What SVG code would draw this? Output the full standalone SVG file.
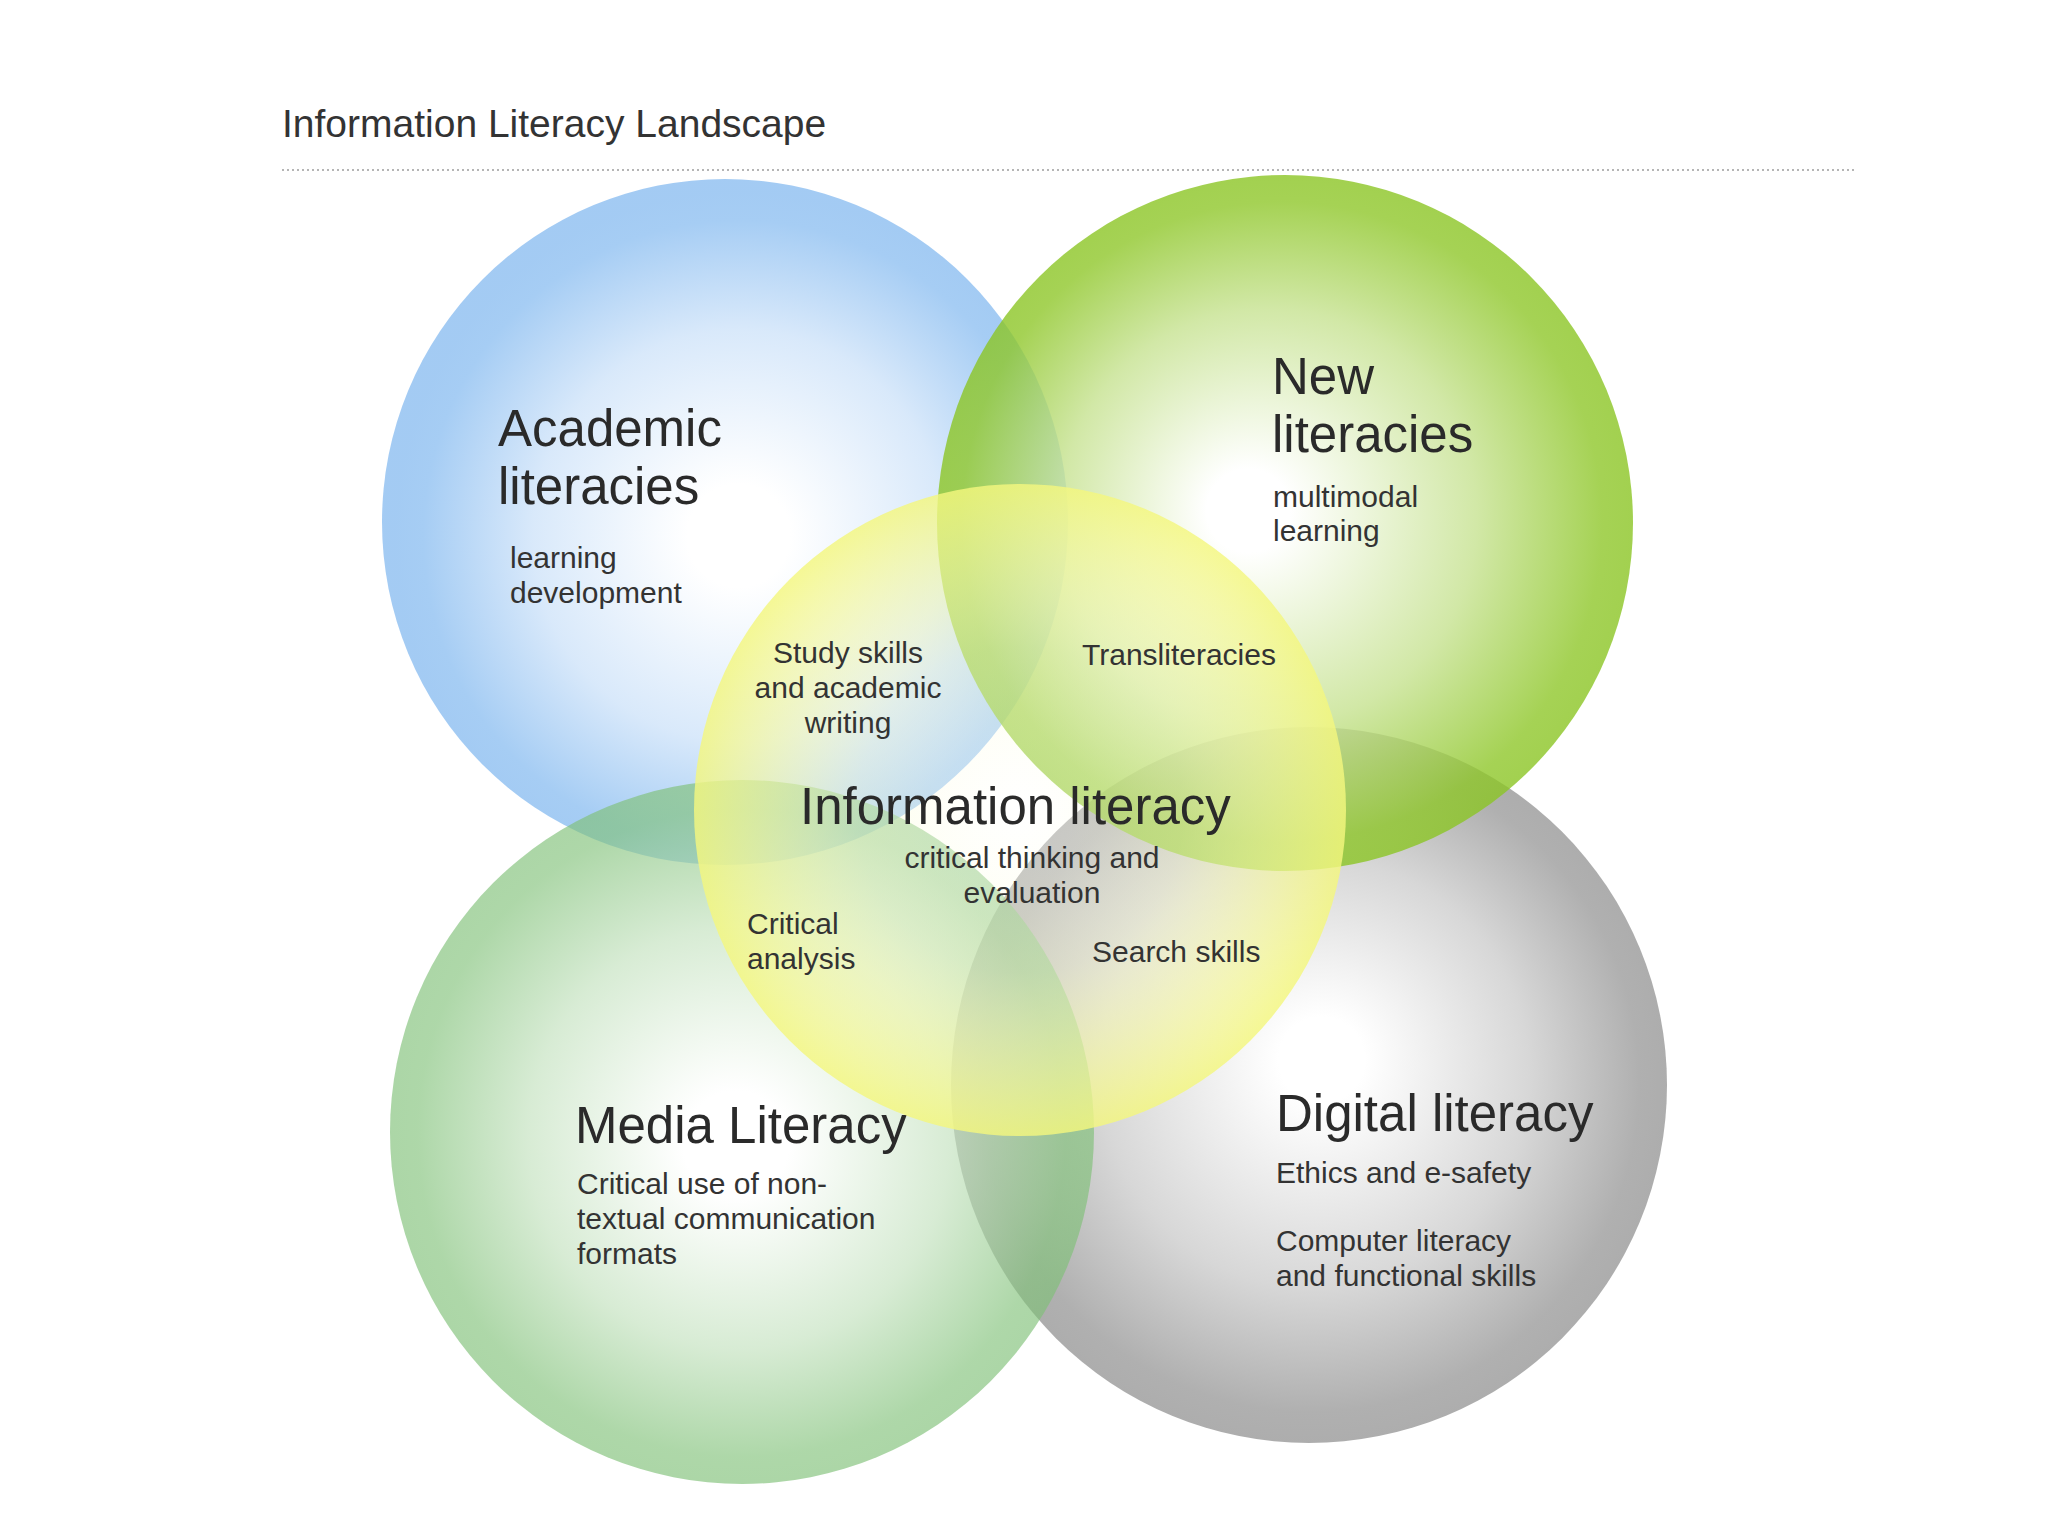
<svg xmlns="http://www.w3.org/2000/svg" width="2048" height="1536" viewBox="0 0 2048 1536">
  <style>
    text { font-family: "Liberation Sans", Arial, sans-serif; }
    .title { font-size: 39px; fill: #333333; }
    .head { font-size: 51px; fill: #2a2a2a; }
    .sub { font-size: 30px; fill: #333333; }
    .mid { text-anchor: middle; }
  </style>
  <defs>
    <radialGradient id="gBlue" cx="0.52" cy="0.52" r="0.5" fx="0.52" fy="0.52">
      <stop offset="0" stop-color="#ffffff"/>
      <stop offset="0.15" stop-color="#ffffff"/>
      <stop offset="0.6" stop-color="#c4ddf8"/>
      <stop offset="0.92" stop-color="#76b2ee"/>
      <stop offset="1" stop-color="#72afed"/>
    </radialGradient>
    <radialGradient id="gNew" cx="0.5" cy="0.5" r="0.5" fx="0.44" fy="0.48">
      <stop offset="0" stop-color="#ffffff"/>
      <stop offset="0.12" stop-color="#ffffff"/>
      <stop offset="0.6" stop-color="#c6e290"/>
      <stop offset="0.92" stop-color="#8fc72a"/>
      <stop offset="1" stop-color="#8bc524"/>
    </radialGradient>
    <radialGradient id="gMedia" cx="0.5" cy="0.5" r="0.5" fx="0.49" fy="0.52">
      <stop offset="0" stop-color="#ffffff"/>
      <stop offset="0.15" stop-color="#ffffff"/>
      <stop offset="0.6" stop-color="#c2e1bd"/>
      <stop offset="0.92" stop-color="#82c27a"/>
      <stop offset="1" stop-color="#7fc077"/>
    </radialGradient>
    <radialGradient id="gGrey" cx="0.5" cy="0.5" r="0.5" fx="0.52" fy="0.46">
      <stop offset="0" stop-color="#ffffff"/>
      <stop offset="0.12" stop-color="#ffffff"/>
      <stop offset="0.6" stop-color="#c6c6c6"/>
      <stop offset="0.92" stop-color="#8e8e8e"/>
      <stop offset="1" stop-color="#8a8a8a"/>
    </radialGradient>
    <radialGradient id="gInfo" cx="0.5" cy="0.5" r="0.5">
      <stop offset="0" stop-color="#ffffff" stop-opacity="0.3"/>
      <stop offset="0.5" stop-color="#fcfdd5" stop-opacity="0.42"/>
      <stop offset="1" stop-color="#f4f77e" stop-opacity="0.82"/>
    </radialGradient>
  </defs>

  <rect x="0" y="0" width="2048" height="1536" fill="#ffffff"/>

  <g id="title">
    <text class="title" x="282" y="137">Information Literacy Landscape</text>
    <line x1="282" y1="170" x2="1855" y2="170" stroke="#b5b5b5" stroke-width="2" stroke-dasharray="2 3"/>
  </g>

  <g id="connectors"/>

  <g id="academic-literacies">
    <circle cx="725" cy="522" r="343" fill="url(#gBlue)" opacity="0.65"/>
    <text class="head" x="498" y="446">Academic</text>
    <text class="head" x="498" y="504">literacies</text>
    <text class="sub" x="510" y="568">learning</text>
    <text class="sub" x="510" y="603">development</text>
  </g>

  <g id="digital-literacy">
    <circle cx="1309" cy="1085" r="358" fill="url(#gGrey)" opacity="0.7"/>
    <text class="head" x="1276" y="1131">Digital literacy</text>
    <text class="sub" x="1276" y="1183">Ethics and e-safety</text>
    <text class="sub" x="1276" y="1251">Computer literacy</text>
    <text class="sub" x="1276" y="1286">and functional skills</text>
  </g>

  <g id="new-literacies">
    <circle cx="1285" cy="523" r="348" fill="url(#gNew)" opacity="0.8"/>
    <text class="head" x="1272" y="394">New</text>
    <text class="head" x="1272" y="452">literacies</text>
    <text class="sub" x="1273" y="507">multimodal</text>
    <text class="sub" x="1273" y="541">learning</text>
  </g>

  <g id="media-literacy">
    <circle cx="742" cy="1132" r="352" fill="url(#gMedia)" opacity="0.65"/>
    <text class="head" x="575" y="1143">Media Literacy</text>
    <text class="sub" x="577" y="1194">Critical use of non-</text>
    <text class="sub" x="577" y="1229">textual communication</text>
    <text class="sub" x="577" y="1264">formats</text>
  </g>

  <g id="information-literacy">
    <circle cx="1020" cy="810" r="326" fill="url(#gInfo)"/>
    <text class="head" x="800" y="824">Information literacy</text>
    <text class="sub mid" x="1032" y="868">critical thinking and</text>
    <text class="sub mid" x="1032" y="903">evaluation</text>
    <text class="sub mid" x="848" y="663">Study skills</text>
    <text class="sub mid" x="848" y="698">and academic</text>
    <text class="sub mid" x="848" y="733">writing</text>
    <text class="sub" x="1082" y="665">Transliteracies</text>
    <text class="sub" x="747" y="934">Critical</text>
    <text class="sub" x="747" y="969">analysis</text>
    <text class="sub" x="1092" y="962">Search skills</text>
  </g>
</svg>
